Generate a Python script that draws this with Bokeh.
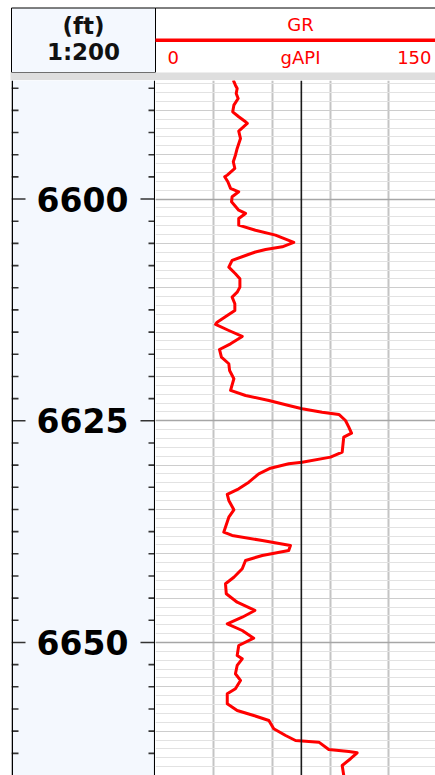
from bokeh.plotting import figure
from bokeh.layouts import row, column
from bokeh.models import Range1d, Span, Grid, FixedTicker, Spacer, ColumnDataSource
from bokeh.core.properties import value
from bokeh.embed import file_html
from bokeh.resources import INLINE
import numpy as np

# ---------------- data ----------------
depth = [6586.59, 6587.16, 6587.53, 6588.09, 6588.66, 6589.41, 6590.16, 6590.72, 6591.28, 6591.47,
         6592.34, 6593.17, 6594.29, 6595.05, 6595.79, 6596.55, 6597.30, 6597.49, 6598.05, 6598.80,
         6599.18, 6599.74, 6600.30, 6601.25, 6601.62, 6602.19, 6602.94, 6603.51, 6604.07, 6604.89,
         6605.38, 6605.68, 6605.97, 6606.36, 6606.92, 6607.68, 6608.42, 6608.99, 6609.93, 6610.50,
         6611.06, 6611.81, 6612.56, 6613.13, 6613.88, 6614.14, 6614.82, 6615.49, 6616.32, 6616.96,
         6617.83, 6618.57, 6619.33, 6620.26, 6621.58, 6622.15, 6622.71, 6623.27, 6623.65, 6624.03,
         6624.29, 6624.97, 6625.72, 6626.40, 6626.85, 6628.54, 6629.10, 6629.67, 6629.85, 6630.35,
         6630.98, 6631.92, 6632.67, 6633.31, 6633.99, 6635.04, 6635.87, 6637.56, 6637.93, 6638.50,
         6639.06, 6639.63, 6640.19, 6640.75, 6641.69, 6642.64, 6643.38, 6644.51, 6645.46, 6646.39,
         6647.15, 6647.89, 6648.65, 6649.52, 6650.34, 6651.47, 6651.84, 6652.59, 6653.53, 6654.28,
         6655.22, 6655.78, 6656.91, 6657.67, 6658.23, 6658.80, 6659.73, 6660.49, 6661.05, 6661.24,
         6662.07, 6662.29, 6662.44, 6663.11, 6663.87, 6665.00]
gr = [40.0, 41.1, 42.0, 41.5, 42.5, 40.3, 39.7, 42.8, 46.3, 47.2,
      42.8, 43.7, 42.0, 41.1, 40.0, 40.8, 36.9, 35.6, 37.2, 38.6,
      42.8, 39.4, 39.1, 42.8, 46.3, 42.8, 42.8, 51.4, 61.7, 71.1,
      65.2, 56.6, 51.4, 46.3, 39.4, 37.7, 41.1, 43.4, 43.4, 42.0,
      39.4, 40.8, 40.8, 36.9, 31.7, 30.9, 37.7, 44.6, 38.6, 32.9,
      33.9, 37.7, 38.1, 40.3, 38.6, 46.3, 58.3, 68.5, 75.4, 85.7,
      94.3, 97.7, 99.4, 100.8, 96.8, 96.0, 90.0, 75.4, 68.5, 59.1,
      53.1, 48.0, 42.8, 36.9, 37.7, 40.3, 37.7, 35.1, 39.4, 54.9,
      69.4, 68.5, 54.9, 46.3, 44.6, 40.3, 36.0, 36.4, 42.0, 51.1,
      44.6, 36.9, 44.6, 50.5, 42.8, 42.0, 44.6, 42.0, 41.1, 43.7,
      41.1, 36.9, 36.9, 42.0, 50.5, 58.3, 60.8, 66.9, 72.0, 84.0,
      89.1, 99.4, 103.7, 100.3, 96.0, 96.8]

depth_labels = [6600, 6625, 6650]
gr_grid_values = [30, 60, 90, 120]
gr_cutoff = 75
gr_min, gr_max = 0, 150
header_depth_unit = "(ft)"
header_depth_scale = "1:200"
curve_name = "GR"
curve_unit = "gAPI"

# ---------------- geometry / styles ----------------
PAGE_W = 435
HDR_H = 80
TRACK_H = 695
LEFT = 11
DEPTH_W = 144
GR_W = 280
BG_DEPTH = "#F4F8FE"
RED = "#FF0000"

y_top, y_bot = 6586.63, 6665.0
yr = Range1d(start=y_bot, end=y_top)


def base_fig(w, h, xr, yrange, bg="white"):
    f = figure(width=w, height=h, x_range=xr, y_range=yrange,
               output_backend="svg", toolbar_location=None,
               x_axis_type=None, y_axis_type=None,
               min_border=0, min_border_left=0, min_border_right=0,
               min_border_top=0, min_border_bottom=0,
               outline_line_color=None,
               background_fill_color=bg, border_fill_color=bg)
    f.xgrid.visible = False
    f.ygrid.visible = False
    return f

# ---------------- header (pixel-like coordinates) ----------------
hdr = base_fig(PAGE_W, HDR_H, Range1d(0, PAGE_W), Range1d(HDR_H, 0), "white")
xs = LEFT + DEPTH_W  # separator between tracks
hdr.quad(left=[LEFT], right=[xs], top=[7.5], bottom=[72], fill_color=BG_DEPTH,
         line_color="black", line_width=1)
hdr.segment(x0=[xs], x1=[PAGE_W], y0=[7.5], y1=[7.5], line_color="black", line_width=1)
hdr.segment(x0=[xs], x1=[PAGE_W], y0=[39.7], y1=[39.7], line_color=RED, line_width=3.5)
hdr.quad(left=[10], right=[PAGE_W], top=[72], bottom=[80], fill_color="#DEDEDE", line_color=None)

hdr.text(x=[LEFT + DEPTH_W / 2], y=[25.5], text=[header_depth_unit],
         text_font=value("DejaVu Sans"), text_font_style="bold",
         text_font_size="23px", text_align="center", text_baseline="alphabetic",
         text_color="#111111")
hdr.text(x=[LEFT + DEPTH_W / 2], y=[51], text=[header_depth_scale],
         text_font=value("DejaVu Sans"), text_font_style="bold",
         text_font_size="23px", text_align="center", text_baseline="alphabetic",
         text_color="#111111")
hdr.text(x=[300], y=[24], text=[curve_name], text_font=value("DejaVu Sans"),
         text_font_size="18px", text_align="center", text_baseline="alphabetic",
         text_color=RED)
hdr.text(x=[167], y=[56.5], text=[str(gr_min)], text_font=value("DejaVu Sans"),
         text_font_size="18px", text_align="left", text_baseline="alphabetic",
         text_color=RED)
hdr.text(x=[300], y=[56.5], text=[curve_unit], text_font=value("DejaVu Sans"),
         text_font_size="18px", text_align="center", text_baseline="alphabetic",
         text_color=RED)
hdr.text(x=[431], y=[56.5], text=[str(gr_max)], text_font=value("DejaVu Sans"),
         text_font_size="18px", text_align="right", text_baseline="alphabetic",
         text_color=RED)

# ---------------- depth track ----------------
dt = base_fig(DEPTH_W, TRACK_H, Range1d(0, DEPTH_W), yr, BG_DEPTH)
minor_ticks = [d for d in np.arange(6587.5, 6665.0, 2.5) if d % 25 != 0]
major_ticks = depth_labels
tick_color = "#333333"
n_mi, n_ma = len(minor_ticks), len(major_ticks)
dt.segment(x0=[0] * n_mi, x1=[7] * n_mi, y0=minor_ticks, y1=minor_ticks,
           line_color=tick_color, line_width=1.6)
dt.segment(x0=[DEPTH_W - 7] * n_mi, x1=[DEPTH_W] * n_mi, y0=minor_ticks, y1=minor_ticks,
           line_color=tick_color, line_width=1.6)
dt.segment(x0=[0] * n_ma, x1=[14] * n_ma, y0=major_ticks, y1=major_ticks,
           line_color=tick_color, line_width=1.6)
dt.segment(x0=[DEPTH_W - 15] * n_ma, x1=[DEPTH_W] * n_ma, y0=major_ticks, y1=major_ticks,
           line_color=tick_color, line_width=1.6)
dt.text(x=[71] * len(depth_labels), y=depth_labels, text=[str(d) for d in depth_labels],
        text_font=value("DejaVu Sans"), text_font_style="bold", text_font_size="33px",
        text_align="center", text_baseline="middle", text_color="#000000")
dt.add_layout(Span(location=0.75, dimension="height", line_color="black", line_width=1.5))
dt.add_layout(Span(location=DEPTH_W - 0.75, dimension="height", line_color="black", line_width=1.6))

# ---------------- GR track ----------------
visible_max = gr_max * GR_W / 291.7
gt = base_fig(GR_W, TRACK_H, Range1d(gr_min, visible_max), yr, "white")
gt.add_layout(Grid(dimension=0, ticker=FixedTicker(ticks=gr_grid_values),
                   grid_line_color="#C4C4C4", grid_line_width=2))
one_ft = list(np.arange(6587, 6666, 1))
five_ft = list(np.arange(6590, 6666, 5))
gt.add_layout(Grid(dimension=1, ticker=FixedTicker(ticks=one_ft),
                   grid_line_color="#E2E2E2", grid_line_width=1))
gt.add_layout(Grid(dimension=1, ticker=FixedTicker(ticks=five_ft),
                   grid_line_color="#CDCDCD", grid_line_width=1.2))
gt.add_layout(Grid(dimension=1, ticker=FixedTicker(ticks=depth_labels),
                   grid_line_color="#A6A6A6", grid_line_width=1.5))
gt.add_layout(Span(location=gr_cutoff, dimension="height", line_color="#1A1A1A", line_width=1.6))
src = ColumnDataSource(dict(gr=gr, depth=depth))
gt.line(x="gr", y="depth", source=src, line_color=RED, line_width=3, line_join="round")

layout = column(
    hdr,
    row(Spacer(width=LEFT, height=TRACK_H), dt, gt),
)

open("out.html", "w").write(file_html(layout, INLINE))
